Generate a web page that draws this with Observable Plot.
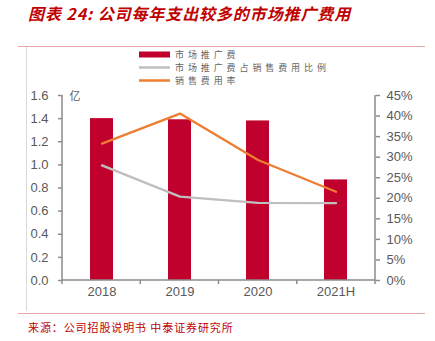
<!DOCTYPE html>
<html><head><meta charset="utf-8">
<script src="https://cdn.jsdelivr.net/npm/d3@7"></script>
<script src="https://cdn.jsdelivr.net/npm/@observablehq/plot@0.6"></script>
<style>
body{margin:0;background:#fff;}
#wrap{position:relative;width:435px;height:341px;overflow:hidden;font-family:"Liberation Sans",Arial,sans-serif;}
#chart{position:absolute;left:0;top:0;}
#title{position:absolute;left:28px;top:3px;font-family:"Noto Sans CJK SC";font-style:italic;font-weight:bold;font-size:16px;color:#C00000;letter-spacing:0.9px;white-space:nowrap;line-height:20px}
.hr{position:absolute;left:18px;width:407px;height:0;border-top:1.5px solid #E8A6A6}
#vline{position:absolute;left:26px;top:47px;height:264px;border-left:1px solid #D9D9D9}
#source{position:absolute;left:28px;top:319px;font-family:"Noto Sans CJK SC";font-size:11px;color:#C00000;letter-spacing:0.9px;line-height:16px;white-space:nowrap}
.item{position:absolute;left:139px;height:13px;line-height:13px;display:flex;align-items:center;font-family:"Noto Sans CJK SC";font-size:9px;color:#666;letter-spacing:3.9px;white-space:nowrap}
.item svg{margin-right:5px}
</style>
</head><body>
<div id="wrap">
  <div id="title"></div>
  <div class="hr" style="top:46px"></div>
  <div id="vline"></div>
  <div id="chart"></div>
  <div id="legend"></div>
  <div class="hr" style="top:313px"></div>
  <div id="source"></div>
</div>
<script>
const titleText = "图表 24: 公司每年支出较多的市场推广费用";
const sourceText = "来源：公司招股说明书 中泰证券研究所";
const unitLabel = "亿";
const categories = ["2018", "2019", "2020", "2021H"];
const promoSpend = [1.40, 1.39, 1.38, 0.87];          // 市场推广费 (亿)
const promoShare = [28.0, 20.4, 18.9, 18.8];         // 市场推广费占销售费用比例 (%)
const sellingRate = [33.3, 40.6, 29.3, 21.6];        // 销售费用率 (%)
const leftTicks = [0, 0.2, 0.4, 0.6, 0.8, 1.0, 1.2, 1.4, 1.6];
const rightTicks = [0, 5, 10, 15, 20, 25, 30, 35, 40, 45];
const seriesNames = ["市场推广费", "市场推广费占销售费用比例", "销售费用率"];

const barColor = "#C0002D";
const grayColor = "#BFBFBF";
const orangeColor = "#ED7D31";
const axisColor = "#8C8C8C";
const textColor = "#595959";

const leftMax = 1.6, rightMax = 45;
const k = leftMax / rightMax; // map % onto left scale

const rows = categories.map((c, i) => ({year: c, spend: promoSpend[i], share: promoShare[i], rate: sellingRate[i]}));

function axisFrame(index, scales, values, dimensions) {
  const {width, height, marginLeft, marginRight, marginTop, marginBottom} = dimensions;
  const left = marginLeft, right = width - marginRight, top = marginTop, bottom = height - marginBottom;
  const g = d3.create("svg:g").attr("fill", "none").attr("stroke", axisColor).attr("stroke-width", 1.5);
  g.append("path").attr("d", `M${left},${top}V${bottom}H${right}V${top}`);
  const n = categories.length;
  for (let i = 0; i <= n; i++) {
    const xb = left + i * (right - left) / n;
    g.append("line").attr("x1", xb).attr("x2", xb).attr("y1", bottom).attr("y2", bottom + 4);
  }
  return g.node();
}

const chart = Plot.plot({
  width: 435,
  height: 341,
  marginLeft: 62,
  marginRight: 60,
  marginTop: 95,
  marginBottom: 61,
  style: {fontFamily: "'Liberation Sans', Arial, sans-serif", fontSize: "13px", color: textColor, background: "transparent"},
  x: {type: "band", domain: categories, paddingInner: 0.7, paddingOuter: 0.35, axis: null},
  y: {domain: [0, leftMax], axis: null},
  marks: [
    Plot.barY(rows, {x: "year", y: "spend", fill: barColor}),
    Plot.line(rows, {x: "year", y: d => d.share * k, stroke: grayColor, strokeWidth: 2.3}),
    Plot.line(rows, {x: "year", y: d => d.rate * k, stroke: orangeColor, strokeWidth: 2.3}),
    axisFrame,
    Plot.axisY(leftTicks, {anchor: "left", tickSize: 4, tickPadding: 10, tickFormat: d => d.toFixed(1), stroke: axisColor, strokeWidth: 1.5, fill: textColor, fontSize: 13, label: null}),
    Plot.axisY(rightTicks.map(p => p * k), {anchor: "right", tickSize: 4, tickPadding: 7, tickFormat: d => Math.round(d / k) + "%", stroke: axisColor, strokeWidth: 1.5, fill: textColor, fontSize: 13, label: null}),
    Plot.text(categories, {x: d => d, frameAnchor: "bottom", dy: 15, fill: textColor, fontSize: 13}),
    Plot.text([unitLabel], {frameAnchor: "top-left", dx: 7, dy: -3, textAnchor: "start", fill: textColor, fontSize: 11, fontFamily: "Noto Sans CJK SC"})
  ]
});
document.getElementById("chart").appendChild(chart);

document.getElementById("title").textContent = titleText;
document.getElementById("source").textContent = sourceText;

const legendCenters = [54, 67, 80];
const legend = document.getElementById("legend");
seriesNames.forEach((name, i) => {
  const item = document.createElement("div");
  item.className = "item";
  item.style.top = (legendCenters[i] - 6.5) + "px";
  const sw = i === 0
    ? `<svg width="31" height="13"><rect x="0" y="3.5" width="31" height="6" fill="${barColor}"/></svg>`
    : `<svg width="31" height="13"><line x1="0" x2="31" y1="6.5" y2="6.5" stroke="${i === 1 ? grayColor : orangeColor}" stroke-width="2.5"/></svg>`;
  item.innerHTML = sw + `<span>${name}</span>`;
  legend.appendChild(item);
});
</script>
</body></html>
